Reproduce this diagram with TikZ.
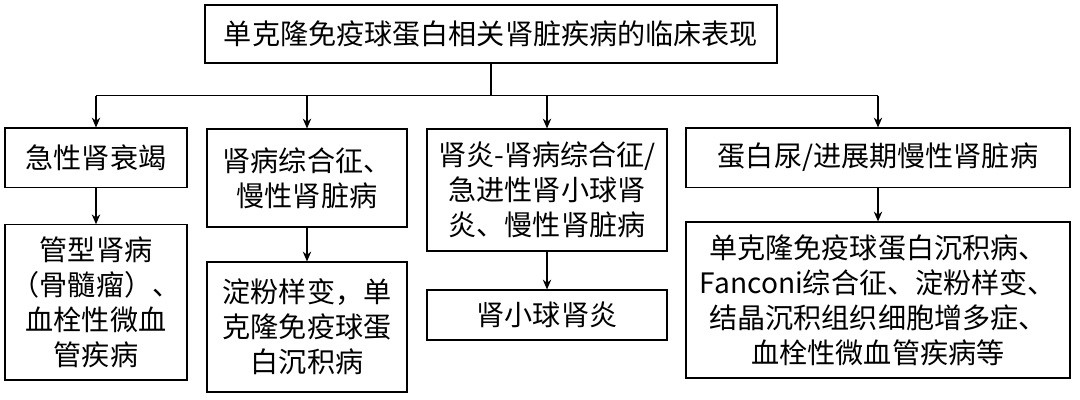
\documentclass[tikz,border=0pt]{standalone}
\usepackage{fontspec}
\setmainfont{Liberation Serif}
\newfontfamily\cjk{Noto Sans CJK SC}
\usetikzlibrary{calc,positioning,arrows.meta}

\begin{document}
\begin{tikzpicture}[
    box/.style={
        draw,
        line width=0.8pt,
        align=center,
        anchor=center,
        inner sep=2pt,
        font=\cjk\fontsize{20}{25}\selectfont
    },
    link/.style={
        line width=0.8pt,
        -{Stealth[length=7pt,width=6pt]}
    }]
    \useasboundingbox (0,0) rectangle (27,-10);

    \node[box, minimum width=14.3cm, minimum height=1.45cm] (top) at (12.275,-0.85) {单克隆免疫球蛋白相关肾脏疾病的临床表现};

    % first row
    \node[box, minimum width=4.55cm, minimum height=1.48cm] (aki) at (2.4,-3.94) {急性肾衰竭};
    \node[box, minimum width=5cm, minimum height=2.45cm] (ns) at (7.675,-4.45) {肾病综合征、\\慢性肾脏病};
    \node[box, minimum width=6cm, minimum height=3.05cm] (neph) at (13.675,-4.75) {肾炎-肾病综合征/\\急进性肾小球肾\\炎、慢性肾脏病};
    \node[box, minimum width=9.6cm, minimum height=1.48cm] (prot) at (21.95,-3.94) {蛋白尿/进展期慢性肾脏病};

    % second row
    \node[box, minimum width=4.55cm, minimum height=3.88cm] (cast) at (2.4,-7.56) {管型肾病\\（骨髓瘤）、\\血栓性微血\\管疾病};
    \node[box, minimum width=5cm, minimum height=3.25cm] (amy) at (7.675,-8.175) {淀粉样变，单\\克隆免疫球蛋\\白沉积病};
    \node[box, minimum width=6cm, minimum height=1.25cm] (gn) at (13.675,-7.875) {肾小球肾炎};
    \node[box, minimum width=9.6cm, minimum height=3.9cm] (mid) at (21.95,-7.5) {单克隆免疫球蛋白沉积病、\\Fanconi综合征、淀粉样变、\\结晶沉积组织细胞增多症、\\血栓性微血管疾病等};

    % connectors
    \coordinate (bus) at ($(top.south)+(0,-0.8)$);
    \draw[line width=0.8pt] (top.south) -- (bus);
    \draw[line width=0.8pt] (aki.north |- bus) -- (prot.north |- bus);
    \foreach \n in {aki,ns,neph,prot}
        \draw[link] (\n.north |- bus) -- (\n.north);
    \draw[link] (aki) -- (cast);
    \draw[link] (ns) -- (amy);
    \draw[link] (neph) -- (gn);
    \draw[link] (prot) -- (mid);
\end{tikzpicture}
\end{document}
